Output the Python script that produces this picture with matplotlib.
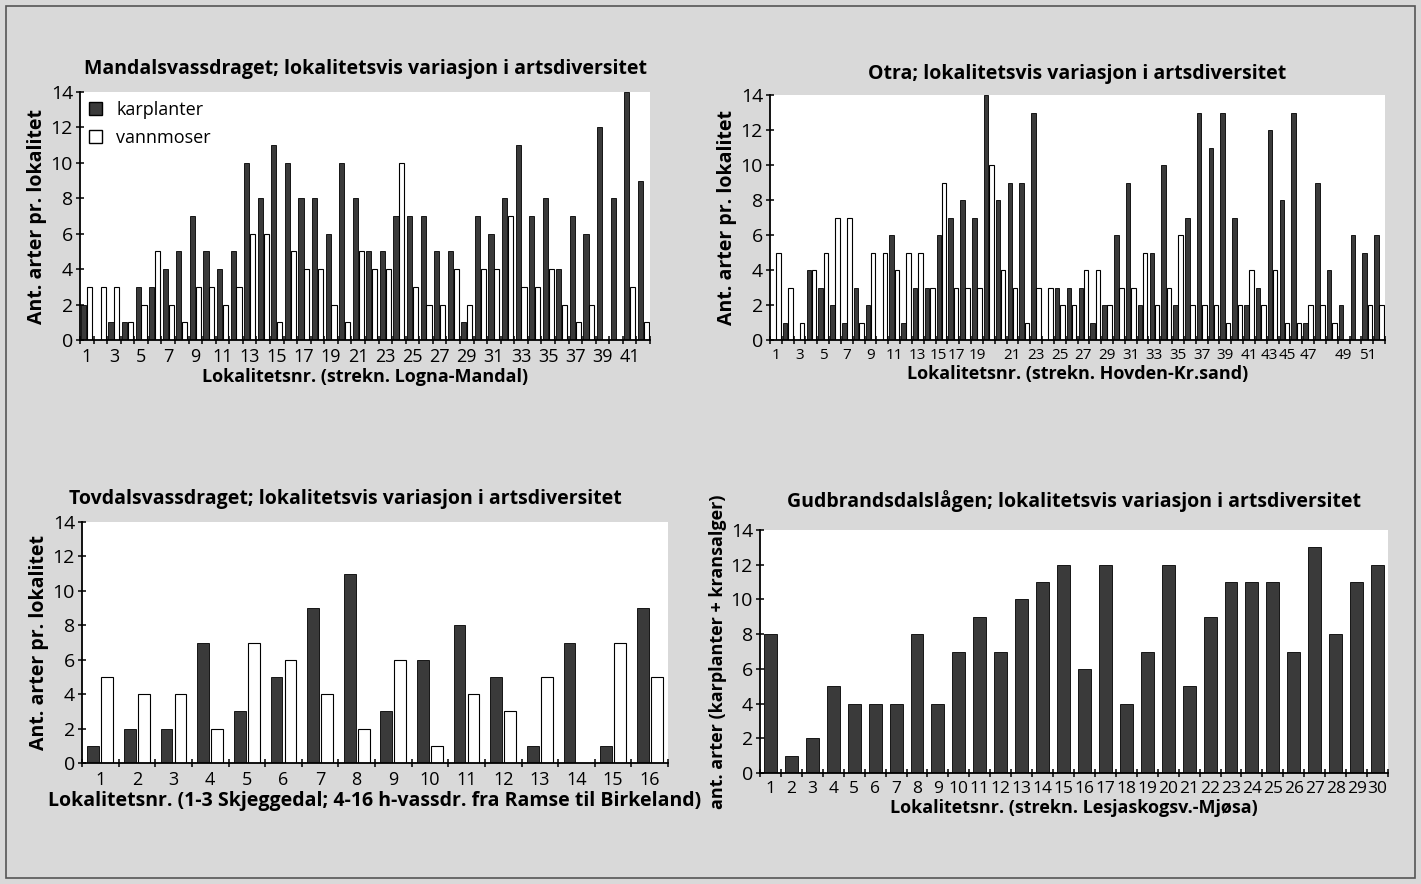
import numpy as np
import matplotlib.pyplot as plt
from matplotlib.patches import Rectangle, Patch
from matplotlib.transforms import ScaledTranslation

plt.rcParams['font.family'] = ['Open Sans', 'DejaVu Sans']

# Mandalsvassdraget, localities 1-42
mandal_karplanter = [2, 0, 1, 1, 3, 3, 4, 5, 7, 5, 4, 5, 10, 8, 11, 10, 8, 8, 6, 10, 8,
                     5, 5, 7, 7, 7, 5, 5, 1, 7, 6, 8, 11, 7, 8, 4, 7, 6, 12, 8, 14, 9]
mandal_vannmoser = [3, 3, 3, 1, 2, 5, 2, 1, 3, 3, 2, 3, 6, 6, 1, 5, 4, 4, 2, 1, 5,
                    4, 4, 10, 3, 2, 2, 4, 2, 4, 4, 7, 3, 3, 4, 2, 1, 2, 0, 0, 3, 1]
mandal_labels = [str(i) if i % 2 == 1 else '' for i in range(1, 43)]

# Otra, 52 bar groups
otra_karplanter = [0, 1, 0, 4, 3, 2, 1, 3, 2, 0, 6, 1, 3, 3, 6, 7, 8, 7, 14, 8, 9, 9, 13, 0, 3, 3,
                   3, 1, 2, 6, 9, 2, 5, 10, 2, 7, 13, 11, 13, 7, 2, 3, 12, 8, 13, 1, 9, 4, 2, 6, 5, 6]
otra_vannmoser = [5, 3, 1, 4, 5, 7, 7, 1, 5, 5, 4, 5, 5, 3, 9, 3, 3, 3, 10, 4, 3, 1, 3, 3, 2, 2,
                  4, 4, 2, 3, 3, 5, 2, 3, 6, 2, 2, 2, 1, 2, 4, 2, 4, 1, 1, 2, 2, 1, 0, 0, 2, 2]
otra_labels = ['1', '', '3', '', '5', '', '7', '', '9', '', '11', '', '13', '', '15', '17', '', '19',
               '', '', '21', '', '23', '', '25', '', '27', '', '29', '', '31', '', '33', '', '35', '',
               '37', '', '39', '', '41', '', '43', '45', '', '47', '', '', '49', '', '51', '']

# Tovdalsvassdraget, localities 1-16
tovdal_karplanter = [1, 2, 2, 7, 3, 5, 9, 11, 3, 6, 8, 5, 1, 7, 1, 9]
tovdal_vannmoser = [5, 4, 4, 2, 7, 6, 4, 2, 6, 1, 4, 3, 5, 0, 7, 5]
tovdal_labels = [str(i) for i in range(1, 17)]

# Gudbrandsdalslågen, localities 1-30
gudbrand_arter = [8, 1, 2, 5, 4, 4, 4, 8, 4, 7, 9, 7, 10, 11, 12, 6, 12, 4, 7, 12,
                  5, 9, 11, 11, 11, 7, 13, 8, 11, 12]
gudbrand_labels = [str(i) for i in range(1, 31)]

W, H = 1421, 884
DARK = '#3a3a3a'
fig = plt.figure(figsize=(W / 100, H / 100), dpi=100, facecolor='#d9d9d9')
fig.patches.append(Rectangle((6 / W, 6 / H), 1 - 12 / W, 1 - 12 / H, transform=fig.transFigure,
                             fill=False, edgecolor='#555555', linewidth=1.2))


def make_ax(left, top, right, bottom):
    return fig.add_axes([left / W, 1 - bottom / H, (right - left) / W, (bottom - top) / H])


def style(ax, n, labels, title, xlabel, ylabel, title_y=1.06, xtick_size=13,
          xlabel_size=13, ylabel_size=14):
    ax.set_xlim(-0.5, n - 0.5)
    ax.set_ylim(0, 14)
    ax.set_yticks(range(0, 15, 2))
    ax.set_xticks(np.arange(n + 1) - 0.5, minor=True)
    ax.set_xticks(np.arange(n))
    ax.set_xticklabels(labels)
    ax.tick_params(axis='x', which='major', length=0, labelsize=xtick_size, pad=6)
    ax.tick_params(axis='x', which='minor', length=6, direction='inout', width=1.1)
    ax.tick_params(axis='y', length=6, direction='inout', width=1.1, labelsize=14, pad=2)
    for s in ['top', 'right']:
        ax.spines[s].set_visible(False)
    for s in ['left', 'bottom']:
        ax.spines[s].set_linewidth(1.3)
    ax.set_title(title, fontsize=14, fontweight='bold', y=title_y)
    ax.set_xlabel(xlabel, fontsize=xlabel_size, fontweight='bold', labelpad=1)
    ax.set_ylabel(ylabel, fontsize=ylabel_size, fontweight='bold', labelpad=3)


def grouped(ax, dark, white, w, gap=0.0):
    x = np.arange(len(dark))
    ax.bar(x - w / 2 - gap / 2, dark, width=w, color=DARK, edgecolor='black', linewidth=0.6)
    ax.bar(x + w / 2 + gap / 2, white, width=w, color='white', edgecolor='black', linewidth=0.8)


ylab = 'Ant. arter pr. lokalitet'

ax1 = make_ax(80, 92, 650, 340)
grouped(ax1, mandal_karplanter, mandal_vannmoser, 0.38, 0.06)
style(ax1, len(mandal_karplanter), mandal_labels,
      'Mandalsvassdraget; lokalitetsvis variasjon i artsdiversitet',
      'Lokalitetsnr. (strekn. Logna-Mandal)', ylab, title_y=1.04)
ax1.legend(handles=[Patch(facecolor=DARK, edgecolor='black', label='karplanter'),
                    Patch(facecolor='white', edgecolor='black', label='vannmoser')],
           loc='upper left', frameon=False, fontsize=13, handlelength=0.7, handleheight=0.7,
           borderaxespad=0.1, labelspacing=0.55)

ax2 = make_ax(770, 95, 1385, 340)
grouped(ax2, otra_karplanter, otra_vannmoser, 0.38, 0.06)
style(ax2, len(otra_karplanter), otra_labels,
      'Otra; lokalitetsvis variasjon i artsdiversitet',
      'Lokalitetsnr. (strekn. Hovden-Kr.sand)', ylab, title_y=1.03, xtick_size=11)
# crowded pairs of labels: nudge apart so they touch but do not overlap
for i, dx in [(14, -3), (15, 3), (42, -3), (43, 3)]:
    lab = ax2.get_xticklabels()[i]
    lab.set_transform(lab.get_transform() + ScaledTranslation(dx / 100, 0, fig.dpi_scale_trans))

ax3 = make_ax(82, 522, 668, 763)
grouped(ax3, tovdal_karplanter, tovdal_vannmoser, 0.32, 0.06)
style(ax3, len(tovdal_karplanter), tovdal_labels,
      'Tovdalsvassdraget; lokalitetsvis variasjon i artsdiversitet',
      'Lokalitetsnr. (1-3 Skjeggedal; 4-16 h-vassdr. fra Ramse til Birkeland)', ylab,
      title_y=1.04, xlabel_size=14)
ax3.title.set_x(0.45)

ax4 = make_ax(760, 530, 1388, 773)
ax4.bar(np.arange(len(gudbrand_arter)), gudbrand_arter, width=0.62, color=DARK,
        edgecolor='black', linewidth=0.6)
style(ax4, len(gudbrand_arter), gudbrand_labels,
      'Gudbrandsdalslågen; lokalitetsvis variasjon i artsdiversitet',
      'Lokalitetsnr. (strekn. Lesjaskogsv.-Mjøsa)', 'ant. arter (karplanter + kransalger)',
      title_y=1.06, xtick_size=12.5, ylabel_size=13)

fig.savefig('out.png', dpi=100, facecolor=fig.get_facecolor())
